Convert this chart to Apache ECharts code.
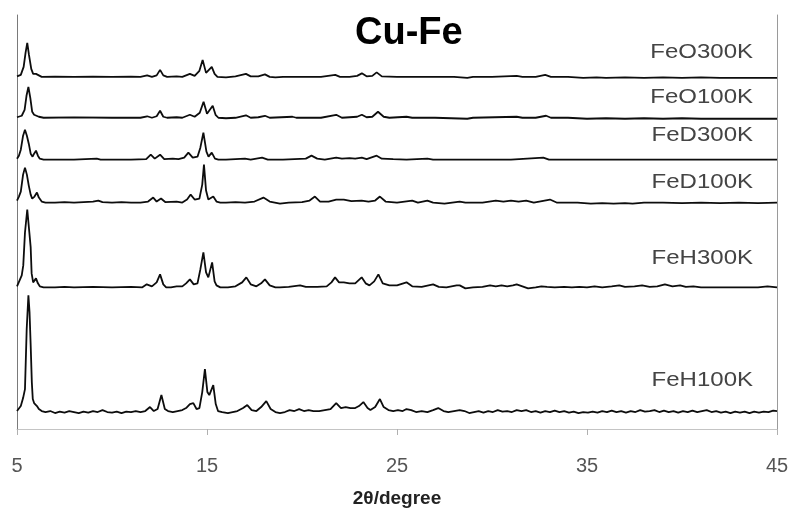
<!DOCTYPE html>
<html>
<head>
<meta charset="utf-8">
<script src="https://cdn.jsdelivr.net/npm/echarts@6/dist/echarts.min.js"></script>
<style>
  html, body { margin: 0; padding: 0; background: #ffffff; }
  #chart { width: 794px; height: 513px; }
</style>
</head>
<body>
<div id="chart"></div>
<script>
// Powder XRD patterns of the Cu-Fe samples, 2θ (degree) vs intensity (arb. units)
const xTicks = [5, 15, 25, 35, 45];
const sampleNames = ['FeO300K', 'FeO100K', 'FeD300K', 'FeD100K', 'FeH300K', 'FeH100K'];

const feO300K = [[5.0,0.5],[5.2,2],[5.35,10],[5.45,24],[5.54,34],[5.63,22],[5.75,8],[5.85,3],[6.0,3],[6.1,1],[6.3,0],[7,0.3],[8,0],[9,0.3],[10,0],[11,0.2],[11.5,0],[11.85,1.5],[12.1,0],[12.35,1.5],[12.53,7],[12.7,1.5],[12.9,0],[13.4,0.5],[13.7,0],[14.1,3],[14.35,1],[14.6,6],[14.77,17],[14.95,4],[15.05,3],[15.25,10],[15.4,3],[15.55,0],[16.0,-0.5],[16.5,0.5],[17.05,3],[17.3,0.5],[17.7,0.5],[18.05,2.5],[18.3,0],[18.6,-0.5],[19,0],[20,0],[21,0],[21.75,2],[22,0],[22.5,0],[22.9,1],[23.15,3.5],[23.4,0.5],[23.7,1],[23.93,4.5],[24.2,0.5],[25,0],[26,0],[27,0],[28,0],[28.7,-1],[29,0],[30,0],[31.3,1],[31.6,0],[32.3,0],[32.8,2],[33.1,0],[34,0],[34.8,-1],[35.5,-0.5],[36,-1],[37,-0.5],[38,-1],[39,-0.5],[40,-1],[41,-0.5],[42,-1],[43,-1],[45,-1]];

const feO100K = [[5.0,0.5],[5.25,2],[5.4,8],[5.5,22],[5.6,31],[5.7,20],[5.8,6],[5.9,3],[6.0,3],[6.15,1],[6.4,0],[8,0.3],[10,0],[11.5,0],[11.85,1.5],[12.1,0],[12.35,1.5],[12.53,7],[12.7,1],[12.9,0],[13.4,0.5],[13.7,0],[14.1,3],[14.35,1],[14.62,5],[14.82,16],[15.0,4],[15.1,4],[15.3,12],[15.45,3],[15.6,0],[16.0,-0.5],[16.5,0],[17.05,2.5],[17.3,0],[17.7,0.5],[18.05,2],[18.3,0],[19.5,1],[19.7,0],[21,0],[21.8,3],[22.1,0],[22.9,1],[23.15,3],[23.4,0.5],[23.7,1],[24.0,6],[24.3,1],[24.6,0],[25.5,1],[25.8,0],[27,0],[28.7,-1],[29,0],[31.3,1],[31.6,0],[32.3,0],[32.85,2],[33.1,0],[34,0],[35,-1],[36,-0.5],[37,-1],[38,-0.5],[39,-1],[40,-0.5],[41,-1],[42,-1],[45,-1]];

const feD300K = [[5.0,1],[5.1,4],[5.2,10],[5.32,24],[5.42,30],[5.52,24],[5.62,16],[5.72,6],[5.82,3],[5.9,6],[6.0,9],[6.1,4],[6.2,1],[6.4,0],[7,0],[8,0],[9.2,1],[9.4,0],[10,0],[11,0],[11.8,0.5],[12.04,5],[12.25,1],[12.53,5],[12.75,0.5],[13.2,1],[13.5,0.5],[13.8,2],[14.02,7],[14.25,2],[14.5,3],[14.65,12],[14.81,27],[14.97,8],[15.08,3],[15.25,7],[15.42,1],[15.6,0],[16,0],[16.5,0.5],[17.0,1],[17.3,0],[17.9,2],[18.2,0],[19,0],[20.2,1],[20.5,4],[20.8,1],[21.2,0],[21.8,2],[22.1,1],[22.5,1.5],[22.8,1],[23.15,2],[23.4,0.5],[23.93,4],[24.2,1],[24.8,0.5],[25.5,0],[26.6,1],[26.9,0],[28,0],[29,0],[30,0],[31,0],[32.7,2],[33,0],[35,0],[38,0],[40,0],[42,0],[45,0]];

const feD100K = [[5.0,2],[5.1,6],[5.2,11],[5.32,28],[5.42,35],[5.52,28],[5.62,17],[5.72,8],[5.8,4],[5.92,6],[6.05,10],[6.15,5],[6.3,1],[6.5,0],[7.0,0],[7.5,0.5],[8,0],[8.5,0.5],[9.0,1],[9.28,2],[9.5,0.5],[10,0],[10.5,0.5],[11,0],[11.5,0],[11.9,1],[12.17,5],[12.35,1],[12.58,4],[12.8,0.5],[13.4,1],[13.7,0],[13.95,3],[14.14,8],[14.35,3],[14.6,4],[14.75,18],[14.84,38],[14.95,12],[15.07,3],[15.33,6],[15.5,1],[15.7,0],[16,0],[16.5,0.5],[17,0],[17.5,1],[17.97,5],[18.3,1],[18.84,-1],[19.3,0],[20,0.5],[20.4,2],[20.68,6],[20.95,1],[21.4,1],[21.8,3],[22.2,3],[22.6,1.5],[23.14,2],[23.5,1],[23.85,2],[24.1,6],[24.4,1],[25,0],[25.8,2],[26.1,0],[26.6,2],[26.9,0],[27.5,-1],[28.3,1],[28.6,0],[29.5,0],[30.2,2],[30.6,1],[31.0,2],[31.4,1],[31.8,2],[32.2,0],[33.05,3],[33.4,0],[34.5,0],[35.2,-1],[35.8,-0.5],[36.4,-1],[37.0,-0.5],[37.4,-1],[38,0],[39,0],[40,-0.5],[41,0],[42,-0.5],[43,0],[44,-0.5],[45,0]];

const feH300K = [[5.0,1],[5.1,3],[5.25,12],[5.33,22],[5.42,55],[5.54,78],[5.65,55],[5.72,40],[5.77,14],[5.85,5],[5.92,6],[6.0,9],[6.1,4],[6.2,1],[6.4,0],[7,0],[7.5,0.5],[8,0],[9,0.5],[10,0],[11,0.5],[11.6,0],[11.83,3],[12.1,1],[12.35,5],[12.53,13],[12.7,3],[12.85,0],[13.1,0],[13.4,1],[13.7,1],[13.9,4],[14.1,8],[14.3,3],[14.5,4],[14.65,18],[14.81,35],[14.95,15],[15.07,10],[15.27,25],[15.4,6],[15.5,2],[15.7,0],[16.1,0],[16.5,1],[16.85,5],[17.07,10],[17.3,3],[17.6,1],[17.85,4],[18.05,8],[18.3,2],[18.6,0],[18.84,0],[19.3,0.5],[19.9,2],[20.2,0.5],[20.8,0.5],[21.3,1],[21.55,5],[21.74,10],[21.95,5],[22.2,5],[22.5,4],[22.8,4],[23.14,10],[23.35,4],[23.55,2],[23.8,6],[24.02,13],[24.25,4],[24.6,2],[25.0,2],[25.5,5],[25.8,1],[26.3,0.5],[26.9,3],[27.2,0.5],[27.6,0],[28.14,2],[28.3,2],[28.6,-1],[29,0],[29.5,0.5],[29.9,2],[30.2,1],[30.5,2],[30.8,1],[31.1,2],[31.3,3],[31.6,1],[31.9,-1],[32.3,0],[32.6,1],[32.9,0.5],[33.3,0],[33.8,0.5],[34.2,0],[34.6,0.5],[35.0,0],[35.4,1],[35.8,0],[36.3,1],[36.7,2],[37.0,0.5],[37.5,1],[37.9,2],[38.3,0.5],[38.7,1],[39.1,3],[39.5,1],[39.9,2],[40.2,0.5],[40.6,1],[41.0,0],[41.5,0],[42,0],[42.5,0],[43,0],[44,0],[44.5,1],[45,0]];

const feH100K = [[5.0,1],[5.1,3],[5.2,6],[5.32,14],[5.42,23],[5.51,83],[5.6,117],[5.66,100],[5.72,67],[5.78,30],[5.83,13],[5.9,9],[5.95,10],[6.05,6],[6.15,3],[6.3,1],[6.5,0],[6.75,1],[7.0,-1],[7.25,0.5],[7.5,-0.5],[7.75,1],[8.0,0],[8.25,-1],[8.5,0.5],[8.75,-0.5],[9.0,1],[9.25,0],[9.5,2],[9.75,0],[10.0,-0.5],[10.25,0.5],[10.5,-1],[10.75,0.5],[11.0,0],[11.25,1],[11.5,0],[11.75,1],[12.0,5],[12.2,1],[12.4,3],[12.6,17],[12.78,3],[12.95,1],[13.2,0],[13.45,1],[13.7,2],[13.9,4],[14.1,8],[14.2,7],[14.28,9],[14.45,3],[14.6,4],[14.75,20],[14.89,43],[15.02,20],[15.12,17],[15.33,27],[15.46,8],[15.58,1],[15.8,0],[16.1,-1],[16.35,0],[16.6,1],[16.9,4],[17.12,7],[17.35,2],[17.6,1],[17.85,5],[18.12,11],[18.35,3],[18.6,0],[18.84,-1],[19.1,0],[19.35,2],[19.6,1],[19.85,3],[20.1,1],[20.35,2],[20.6,1],[20.9,1],[21.2,2],[21.5,3],[21.8,9],[22.05,4],[22.3,5],[22.55,4],[22.8,4],[23.0,6],[23.23,10],[23.45,4],[23.6,2],[23.85,5],[24.1,13],[24.3,5],[24.55,2],[24.8,1],[25.05,2],[25.3,1],[25.5,3],[25.75,2],[26.0,0],[26.3,1],[26.6,0],[26.9,2],[27.17,4],[27.45,1],[27.7,0],[28.0,1],[28.3,2],[28.55,1],[28.8,-1],[29.05,0],[29.3,1],[29.55,-0.5],[29.8,1],[30.05,0],[30.3,2],[30.55,0.5],[30.8,1],[31.05,0],[31.3,2],[31.55,1],[31.8,2],[32.05,0],[32.3,1],[32.55,-0.5],[32.8,1],[33.05,0],[33.3,1.5],[33.55,0],[33.8,1],[34.05,-0.5],[34.3,0.5],[34.55,-1],[34.8,0],[35.05,-0.5],[35.3,0.5],[35.55,-0.5],[35.8,1],[36.05,0],[36.3,1.5],[36.55,0],[36.8,1],[37.05,-0.5],[37.3,1],[37.55,0],[37.8,2],[38.05,0.5],[38.3,1],[38.55,2],[38.8,0],[39.05,1.5],[39.3,0],[39.55,1],[39.8,-0.5],[40.05,1],[40.3,0],[40.55,1.5],[40.8,0],[41.05,1],[41.3,2],[41.55,0],[41.8,1],[42.05,-0.5],[42.3,0.5],[42.55,-1],[42.8,0.5],[43.05,-0.5],[43.3,0.5],[43.55,-1],[43.8,0.5],[44.05,-0.5],[44.3,0.5],[44.55,0],[44.8,1.5],[45.0,1]];

const patterns = [feO300K, feO100K, feD300K, feD100K, feH300K, feH100K];

// each pattern is lifted by its own offset so the traces stack without overlapping
const stackOffsets = [353, 312, 270, 227, 142, 17];
// sample-name captions sit near the right end of each trace (pixel centre heights)
const captionY = [52, 97, 135, 182, 258, 380];

const FONT = "'Liberation Sans', Arial, Helvetica, sans-serif";

const chart = echarts.init(document.getElementById('chart'), null, { renderer: 'canvas' });

const series = patterns.map((pts, i) => ({
  name: sampleNames[i],
  type: 'line',
  xAxisIndex: 0,
  yAxisIndex: 0,
  data: pts.map(p => [p[0], p[1] + stackOffsets[i]]),
  showSymbol: false,
  smooth: false,
  silent: true,
  animation: false,
  lineStyle: { color: '#0d0d0d', width: 1.8 },
  z: 3
}));

chart.setOption({
  animation: false,
  backgroundColor: '#ffffff',
  title: {
    text: 'Cu-Fe',
    left: 350,
    top: 10,
    textStyle: { fontFamily: FONT, fontSize: 38, fontWeight: 'bold', color: '#000000' }
  },
  grid: { left: 17, right: 17, top: 15, bottom: 83, containLabel: false },
  xAxis: {
    type: 'value',
    min: xTicks[0],
    max: xTicks[xTicks.length - 1],
    interval: xTicks[1] - xTicks[0],
    name: '2θ/degree',
    nameLocation: 'middle',
    nameGap: 60,
    nameTextStyle: { fontFamily: FONT, fontSize: 19, fontWeight: 'bold', color: '#222222' },
    axisLine: { show: true, lineStyle: { color: '#c4c4c4', width: 1 } },
    axisTick: { show: true, length: 6, lineStyle: { color: '#b0b0b0', width: 1 } },
    axisLabel: { margin: 27, fontFamily: FONT, fontSize: 20, color: '#555555' },
    splitLine: { show: false }
  },
  yAxis: [
    {
      type: 'value', min: 0, max: 415, position: 'left',
      axisLine: { show: true, onZero: false, lineStyle: { color: '#7a7a7a', width: 1 } },
      axisTick: { show: false }, axisLabel: { show: false }, splitLine: { show: false }
    },
    {
      type: 'value', min: 0, max: 415, position: 'right',
      axisLine: { show: true, onZero: false, lineStyle: { color: '#9a9a9a', width: 1 } },
      axisTick: { show: false }, axisLabel: { show: false }, splitLine: { show: false }
    }
  ],
  graphic: sampleNames.map((name, i) => ({
    type: 'text',
    x: 753,
    y: captionY[i],
    scaleX: 1.2,
    silent: true,
    style: {
      text: name,
      align: 'right',
      verticalAlign: 'middle',
      fontFamily: FONT,
      fontSize: 20,
      fill: '#444444'
    },
    z: 10
  })),
  series: series
});
</script>
</body>
</html>
